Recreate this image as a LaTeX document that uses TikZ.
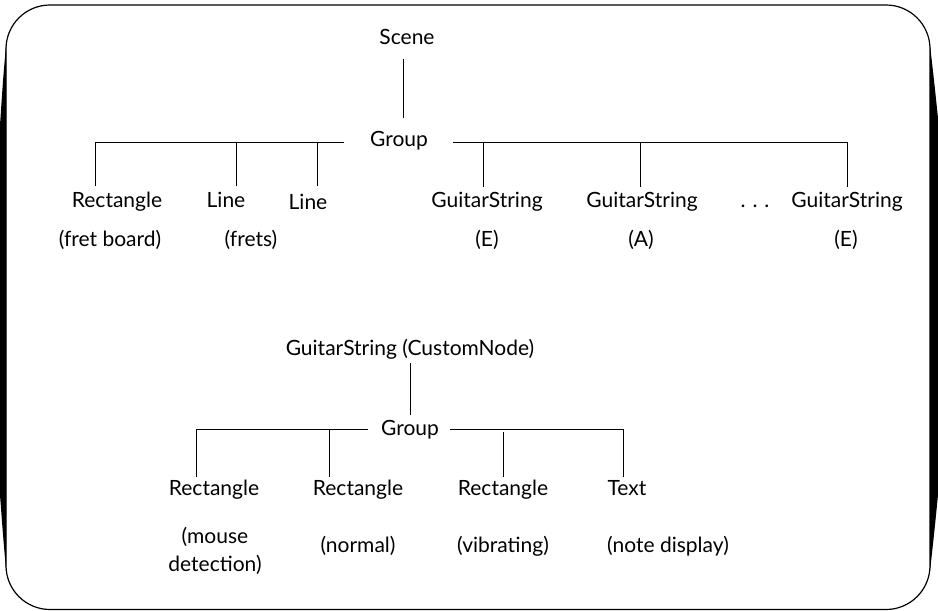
\documentclass[tikz,border=0pt]{standalone}
\usepackage{fontspec}
\setmainfont{Lato}
\begin{document}
\begin{tikzpicture}[x=1bp,y=-1bp,line width=1bp,
  lbl/.style={anchor=base,inner sep=0pt,font=\fontsize{21bp}{28bp}\selectfont},
  mlbl/.style={anchor=center,inner sep=0pt,align=center,font=\fontsize{21bp}{28bp}\selectfont},
  conn/.style={line width=1bp,black}]
\useasboundingbox (0,0) rectangle (938,611);
% frame
\draw[line width=1.2bp,rounded corners=44bp] (6,5) rectangle (930,609.5);
\fill (6,45) .. controls (3,80) .. (0,125) -- (0,495) .. controls (3,535) .. (6,570) -- cycle;
\fill (930,45) .. controls (934,80) .. (938,118) -- (938,495) .. controls (934,535) .. (930,571) -- cycle;

% ---------- upper tree ----------
\node[lbl] (scene) at (407,45) {Scene};
\node[lbl,inner xsep=0pt] (g1) at (399,147) {Group};
\node[lbl] (r1) at (117,208) {Rectangle};
\node[lbl] (l1) at (226,208) {Line};
\node[lbl] (l2) at (308,210) {Line};
\node[lbl] (gs1) at (487,208) {GuitarString};
\node[lbl] (gs2) at (642,208) {GuitarString};
\node[lbl] (dots) at (755,208) {.\,\,.\,\,.};
\node[lbl] (gs3) at (847,208) {GuitarString};
\node[lbl] (c1) at (110,247) {(fret board)};
\node[lbl] (c2) at (251,247) {(frets)};
\node[lbl] (c3) at (487,247) {(E)};
\node[lbl] (c4) at (641,247) {(A)};
\node[lbl] (c5) at (846,247) {(E)};

\coordinate (sa) at (403,59);
\coordinate (sb) at (403,118);
\coordinate (bl) at (344,143);
\coordinate (br) at (453,143);
\coordinate (j1) at (95,143);   \coordinate (d1) at (95,186);
\coordinate (j2) at (236,143);  \coordinate (d2) at (236,186);
\coordinate (j3) at (317,143);  \coordinate (d3) at (317,186);
\coordinate (j4) at (483,143);  \coordinate (d4) at (483,187);
\coordinate (j5) at (640,143);  \coordinate (d5) at (640,187);
\coordinate (j6) at (847,143);  \coordinate (d6) at (847,187);
\draw[conn] (sa) -- (sb);
\draw[conn] (bl) -- (j1) -- (d1);
\draw[conn] (j2) -- (d2);
\draw[conn] (j3) -- (d3);
\draw[conn] (br) -- (j6) -- (d6);
\draw[conn] (j4) -- (d4);
\draw[conn] (j5) -- (d5);

% ---------- lower tree ----------
\node[lbl] (cn) at (410,355) {GuitarString (CustomNode)};
\node[lbl] (g2) at (410,435) {Group};
\node[lbl] (r2) at (214,495) {Rectangle};
\node[lbl] (r3) at (358,495) {Rectangle};
\node[lbl] (r4) at (503,495) {Rectangle};
\node[lbl] (tx) at (627,495) {Text};
\node[mlbl] (m1) at (215,551) {(mouse\\detection)};
\node[lbl] (m2) at (358,552) {(normal)};
\node[lbl] (m3) at (503,552) {(vibrating)};
\node[lbl] (m4) at (668,552) {(note display)};

\coordinate (ca) at (410,363);
\coordinate (cb) at (410,415);
\coordinate (kl) at (368,429);
\coordinate (kr) at (450,429);
\coordinate (k1) at (196,429);  \coordinate (e1) at (196,477);
\coordinate (k2) at (329,429);  \coordinate (e2) at (329,477);
\coordinate (k3) at (503,432);  \coordinate (e3) at (503,477);
\coordinate (k4) at (623,429);  \coordinate (e4) at (623,477);
\draw[conn] (ca) -- (cb);
\draw[conn] (kl) -- (k1) -- (e1);
\draw[conn] (k2) -- (e2);
\draw[conn] (kr) -- (k4) -- (e4);
\draw[conn] (k3) -- (e3);
\end{tikzpicture}
\end{document}
